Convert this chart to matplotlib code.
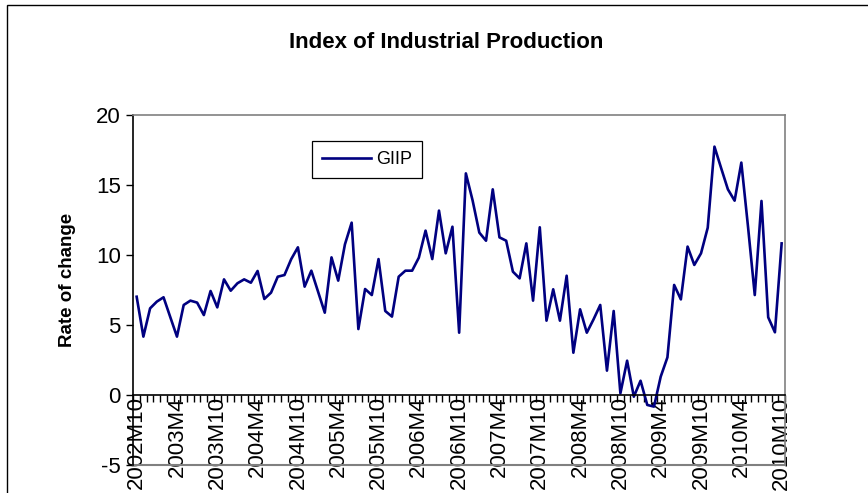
import numpy as np
import matplotlib
matplotlib.use('Agg')
import matplotlib.pyplot as plt
from matplotlib.patches import Rectangle

# GIIP rate of change, monthly 2002M10 .. 2010M10
giip = [7.02, 4.17, 6.19, 6.67, 6.98, 5.57, 4.17, 6.43, 6.74, 6.6, 5.71, 7.43,
        6.26, 8.26, 7.45, 7.98, 8.26, 8.02, 8.86, 6.86, 7.31, 8.45, 8.57, 9.7,
        10.55, 7.74, 8.88, 7.38, 5.88, 9.83, 8.17, 10.76, 12.31, 4.71, 7.57, 7.14,
        9.71, 6.0, 5.6, 8.45, 8.88, 8.88, 9.81, 11.74, 9.71, 13.17, 10.12, 12.02,
        4.45, 15.83, 13.9, 11.6, 11.02, 14.69, 11.26, 11.02, 8.81, 8.33, 10.83, 6.74,
        11.98, 5.31, 7.55, 5.31, 8.52, 3.02, 6.12, 4.45, 5.4, 6.43, 1.74, 6.0,
        0.12, 2.45, -0.12, 1.02, -0.71, -0.83, 1.31, 2.69, 7.86, 6.83, 10.6, 9.29,
        10.12, 11.95, 17.74, 16.2, 14.69, 13.88, 16.6, 12.0, 7.14, 13.86, 5.55, 4.48,
        10.83]
tick_labels = ['2002M10', '2003M4', '2003M10', '2004M4', '2004M10', '2005M4',
               '2005M10', '2006M4', '2006M10', '2007M4', '2007M10', '2008M4',
               '2008M10', '2009M4', '2009M10', '2010M4', '2010M10']
label_step = 6
yticks = [-5, 0, 5, 10, 15, 20]

plt.rcParams['font.family'] = ['Liberation Sans', 'DejaVu Sans']
plt.rcParams['axes.unicode_minus'] = False

W, H = 868, 493
fig = plt.figure(figsize=(W / 100, H / 100), dpi=100)
ax = fig.add_axes([133.3 / W, 1 - 465 / H, (785 - 133.3) / W, (465 - 115) / H])

# chart area border (only top and left visible)
fig.patches.append(Rectangle((7 / W, -0.2), 2, 1.2 - 5 / H, transform=fig.transFigure,
                             fill=False, ec='black', lw=1))

x = np.arange(len(giip))
ax.plot(x, giip, color='#000080', lw=1.9, label='GIIP')

ax.set_xlim(-0.5, len(giip) - 0.5)
ax.set_ylim(-5, 20)

# spines
ax.spines['bottom'].set_position(('data', 0))
ax.spines['bottom'].set_color('black')
ax.spines['left'].set_color('black')
ax.spines['top'].set_color('#808080')
ax.spines['right'].set_color('#808080')
for s in ax.spines.values():
    s.set_linewidth(1.2)
ax.axhline(-5, color='#808080', lw=1.5, clip_on=False)

ax.set_yticks(yticks)
ax.tick_params(axis='y', direction='out', length=5, width=1, labelsize=16, pad=4)

ax.set_xticks(x[::label_step])
ax.set_xticklabels(tick_labels, rotation=90, fontsize=16)
ax.set_xticks(np.arange(-0.5, len(giip), 1), minor=True)
ax.tick_params(axis='x', which='major', length=0, pad=1)
ax.tick_params(axis='x', which='minor', direction='out', length=5, width=1)

fig.text(446 / W, 1 - 43 / H, 'Index of Industrial Production', ha='center', va='center',
         fontsize=16, fontweight='bold')
fig.text(67 / W, 1 - 280 / H, 'Rate of change', ha='center', va='center', rotation=90,
         fontsize=13.5, fontweight='bold')

leg = ax.legend(loc='upper left', bbox_to_anchor=(312 / W, 1 - 141 / H),
                bbox_transform=fig.transFigure, borderaxespad=0, fancybox=False,
                edgecolor='black', framealpha=1, handlelength=2.7, handletextpad=0.3,
                fontsize=13, borderpad=0.55)
leg.get_frame().set_linewidth(0.9)

fig.savefig('out.png', dpi=100)
